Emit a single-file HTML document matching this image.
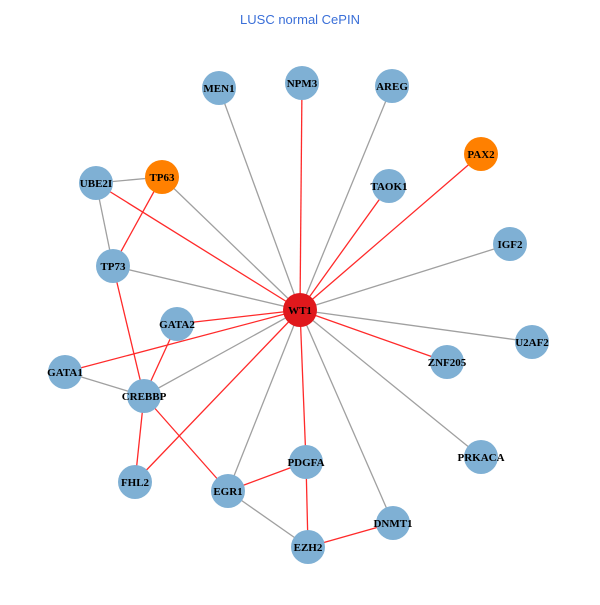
<!DOCTYPE html>
<html><head><style>body{margin:0;background:#fff}</style></head><body>
<svg width="600" height="600" xmlns="http://www.w3.org/2000/svg">
<rect width="600" height="600" fill="#fff"/>
<text x="300" y="24" text-anchor="middle" font-family="Liberation Sans, sans-serif" font-size="13" fill="#3a6fd8">LUSC normal CePIN</text>
<g stroke-width="1.3">
<g stroke="#a0a0a0">
<line x1="300" y1="310" x2="219" y2="88"/>
<line x1="300" y1="310" x2="392" y2="86"/>
<line x1="300" y1="310" x2="510" y2="244"/>
<line x1="300" y1="310" x2="532" y2="342"/>
<line x1="300" y1="310" x2="481" y2="457"/>
<line x1="300" y1="310" x2="393" y2="523"/>
<line x1="300" y1="310" x2="228" y2="491"/>
<line x1="300" y1="310" x2="144" y2="396"/>
<line x1="300" y1="310" x2="113" y2="266"/>
<line x1="300" y1="310" x2="162" y2="177"/>
<line x1="96" y1="183" x2="162" y2="177"/>
<line x1="96" y1="183" x2="113" y2="266"/>
<line x1="65" y1="372" x2="144" y2="396"/>
<line x1="228" y1="491" x2="308" y2="547"/>
</g>
<g stroke="#ff2a2a">
<line x1="300" y1="310" x2="302" y2="83"/>
<line x1="300" y1="310" x2="481" y2="154"/>
<line x1="300" y1="310" x2="389" y2="186"/>
<line x1="300" y1="310" x2="96" y2="183"/>
<line x1="300" y1="310" x2="177" y2="324"/>
<line x1="300" y1="310" x2="65" y2="372"/>
<line x1="300" y1="310" x2="135" y2="482"/>
<line x1="300" y1="310" x2="306" y2="462"/>
<line x1="300" y1="310" x2="447" y2="362"/>
<line x1="162" y1="177" x2="113" y2="266"/>
<line x1="113" y1="266" x2="144" y2="396"/>
<line x1="177" y1="324" x2="144" y2="396"/>
<line x1="144" y1="396" x2="135" y2="482"/>
<line x1="144" y1="396" x2="228" y2="491"/>
<line x1="228" y1="491" x2="306" y2="462"/>
<line x1="306" y1="462" x2="308" y2="547"/>
<line x1="308" y1="547" x2="393" y2="523"/>
</g>
</g>
<g fill="#7fb0d4">
<circle cx="219" cy="88" r="17"/><circle cx="302" cy="83" r="17"/><circle cx="392" cy="86" r="17"/>
<circle cx="96" cy="183" r="17"/><circle cx="389" cy="186" r="17"/><circle cx="510" cy="244" r="17"/>
<circle cx="113" cy="266" r="17"/><circle cx="177" cy="324" r="17"/><circle cx="532" cy="342" r="17"/>
<circle cx="447" cy="362" r="17"/><circle cx="65" cy="372" r="17"/><circle cx="144" cy="396" r="17"/>
<circle cx="481" cy="457" r="17"/><circle cx="306" cy="462" r="17"/><circle cx="135" cy="482" r="17"/>
<circle cx="228" cy="491" r="17"/><circle cx="393" cy="523" r="17"/><circle cx="308" cy="547" r="17"/>
</g>
<circle cx="481" cy="154" r="17" fill="#ff8000"/>
<circle cx="162" cy="177" r="17" fill="#ff8000"/>
<circle cx="300" cy="310" r="17" fill="#e0181c"/>
<g font-family="Liberation Serif, serif" font-weight="bold" font-size="11" text-anchor="middle" fill="#000">
<text x="219" y="92">MEN1</text><text x="302" y="87">NPM3</text><text x="392" y="90">AREG</text>
<text x="481" y="158">PAX2</text><text x="162" y="181">TP63</text><text x="96" y="187">UBE2I</text>
<text x="389" y="190">TAOK1</text><text x="510" y="248">IGF2</text><text x="113" y="270">TP73</text>
<text x="300" y="314">WT1</text><text x="177" y="328">GATA2</text><text x="532" y="346">U2AF2</text>
<text x="447" y="366">ZNF205</text><text x="65" y="376">GATA1</text><text x="144" y="400">CREBBP</text>
<text x="481" y="461">PRKACA</text><text x="306" y="466">PDGFA</text><text x="135" y="486">FHL2</text>
<text x="228" y="495">EGR1</text><text x="393" y="527">DNMT1</text><text x="308" y="551">EZH2</text>
</g>
</svg>
</body></html>
